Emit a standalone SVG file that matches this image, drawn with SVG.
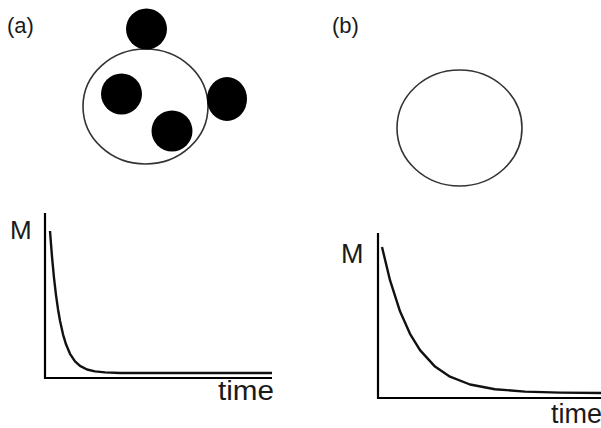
<svg xmlns="http://www.w3.org/2000/svg" width="601" height="428" viewBox="0 0 601 428">
<style>
.lbl{font-family:"Liberation Sans",Arial,sans-serif;fill:#1a1a1a}
.cell{fill:#fff;stroke:#333;stroke-width:1.6}
.dot{fill:#000}
.axis{fill:none;stroke:#000;stroke-width:2.2}
.curve{fill:none;stroke:#111;stroke-width:2.4;stroke-linejoin:round}
</style>
<rect width="601" height="428" fill="#fff"/>
<g id="panel-a">
<text class="lbl" x="7" y="33" font-size="22">(a)</text>
<g id="cell-a"><ellipse class="cell" cx="145.5" cy="106.5" rx="62.5" ry="57.5"/></g>
<g id="dot-top"><circle class="dot" cx="146.5" cy="29" r="20.5"/></g>
<g id="dot-left"><circle class="dot" cx="121.5" cy="94" r="20.5"/></g>
<g id="dot-right"><ellipse class="dot" cx="227" cy="99" rx="20" ry="22"/></g>
<g id="dot-bottom"><circle class="dot" cx="172" cy="131" r="20.5"/></g>
</g>
<g id="panel-b">
<text class="lbl" x="332" y="33" font-size="22">(b)</text>
<g id="cell-b"><ellipse class="cell" cx="459.5" cy="128" rx="62.5" ry="58"/></g>
</g>
<g id="chart-a">
<path class="axis" d="M45,213 V378 H272"/>
<path class="curve" d="M50,231 L52,256.7 L54,277.8 L56,295.1 L58,309.2 L60,320.8 L63,334.3 L66,344.3 L70,353.8 L75,361.3 L80,365.9 L87,369.5 L95,371.4 L105,372.4 L120,373 L272,373"/>
<text class="lbl" x="10" y="239" font-size="26">M</text>
<text class="lbl" x="218" y="400" font-size="27" textLength="56" lengthAdjust="spacingAndGlyphs">time</text>
</g>
<g id="chart-b">
<path class="axis" d="M378,233 V398 H601"/>
<path class="curve" d="M382,247 L390,280.2 L400,311.3 L410,333.8 L420,350.1 L435,366.6 L450,376.7 L470,384.5 L495,389.2 L525,391.6 L560,392.6 L601,393"/>
<text class="lbl" x="341" y="263" font-size="27">M</text>
<text class="lbl" x="551" y="423" font-size="27">time</text>
</g>
</svg>
